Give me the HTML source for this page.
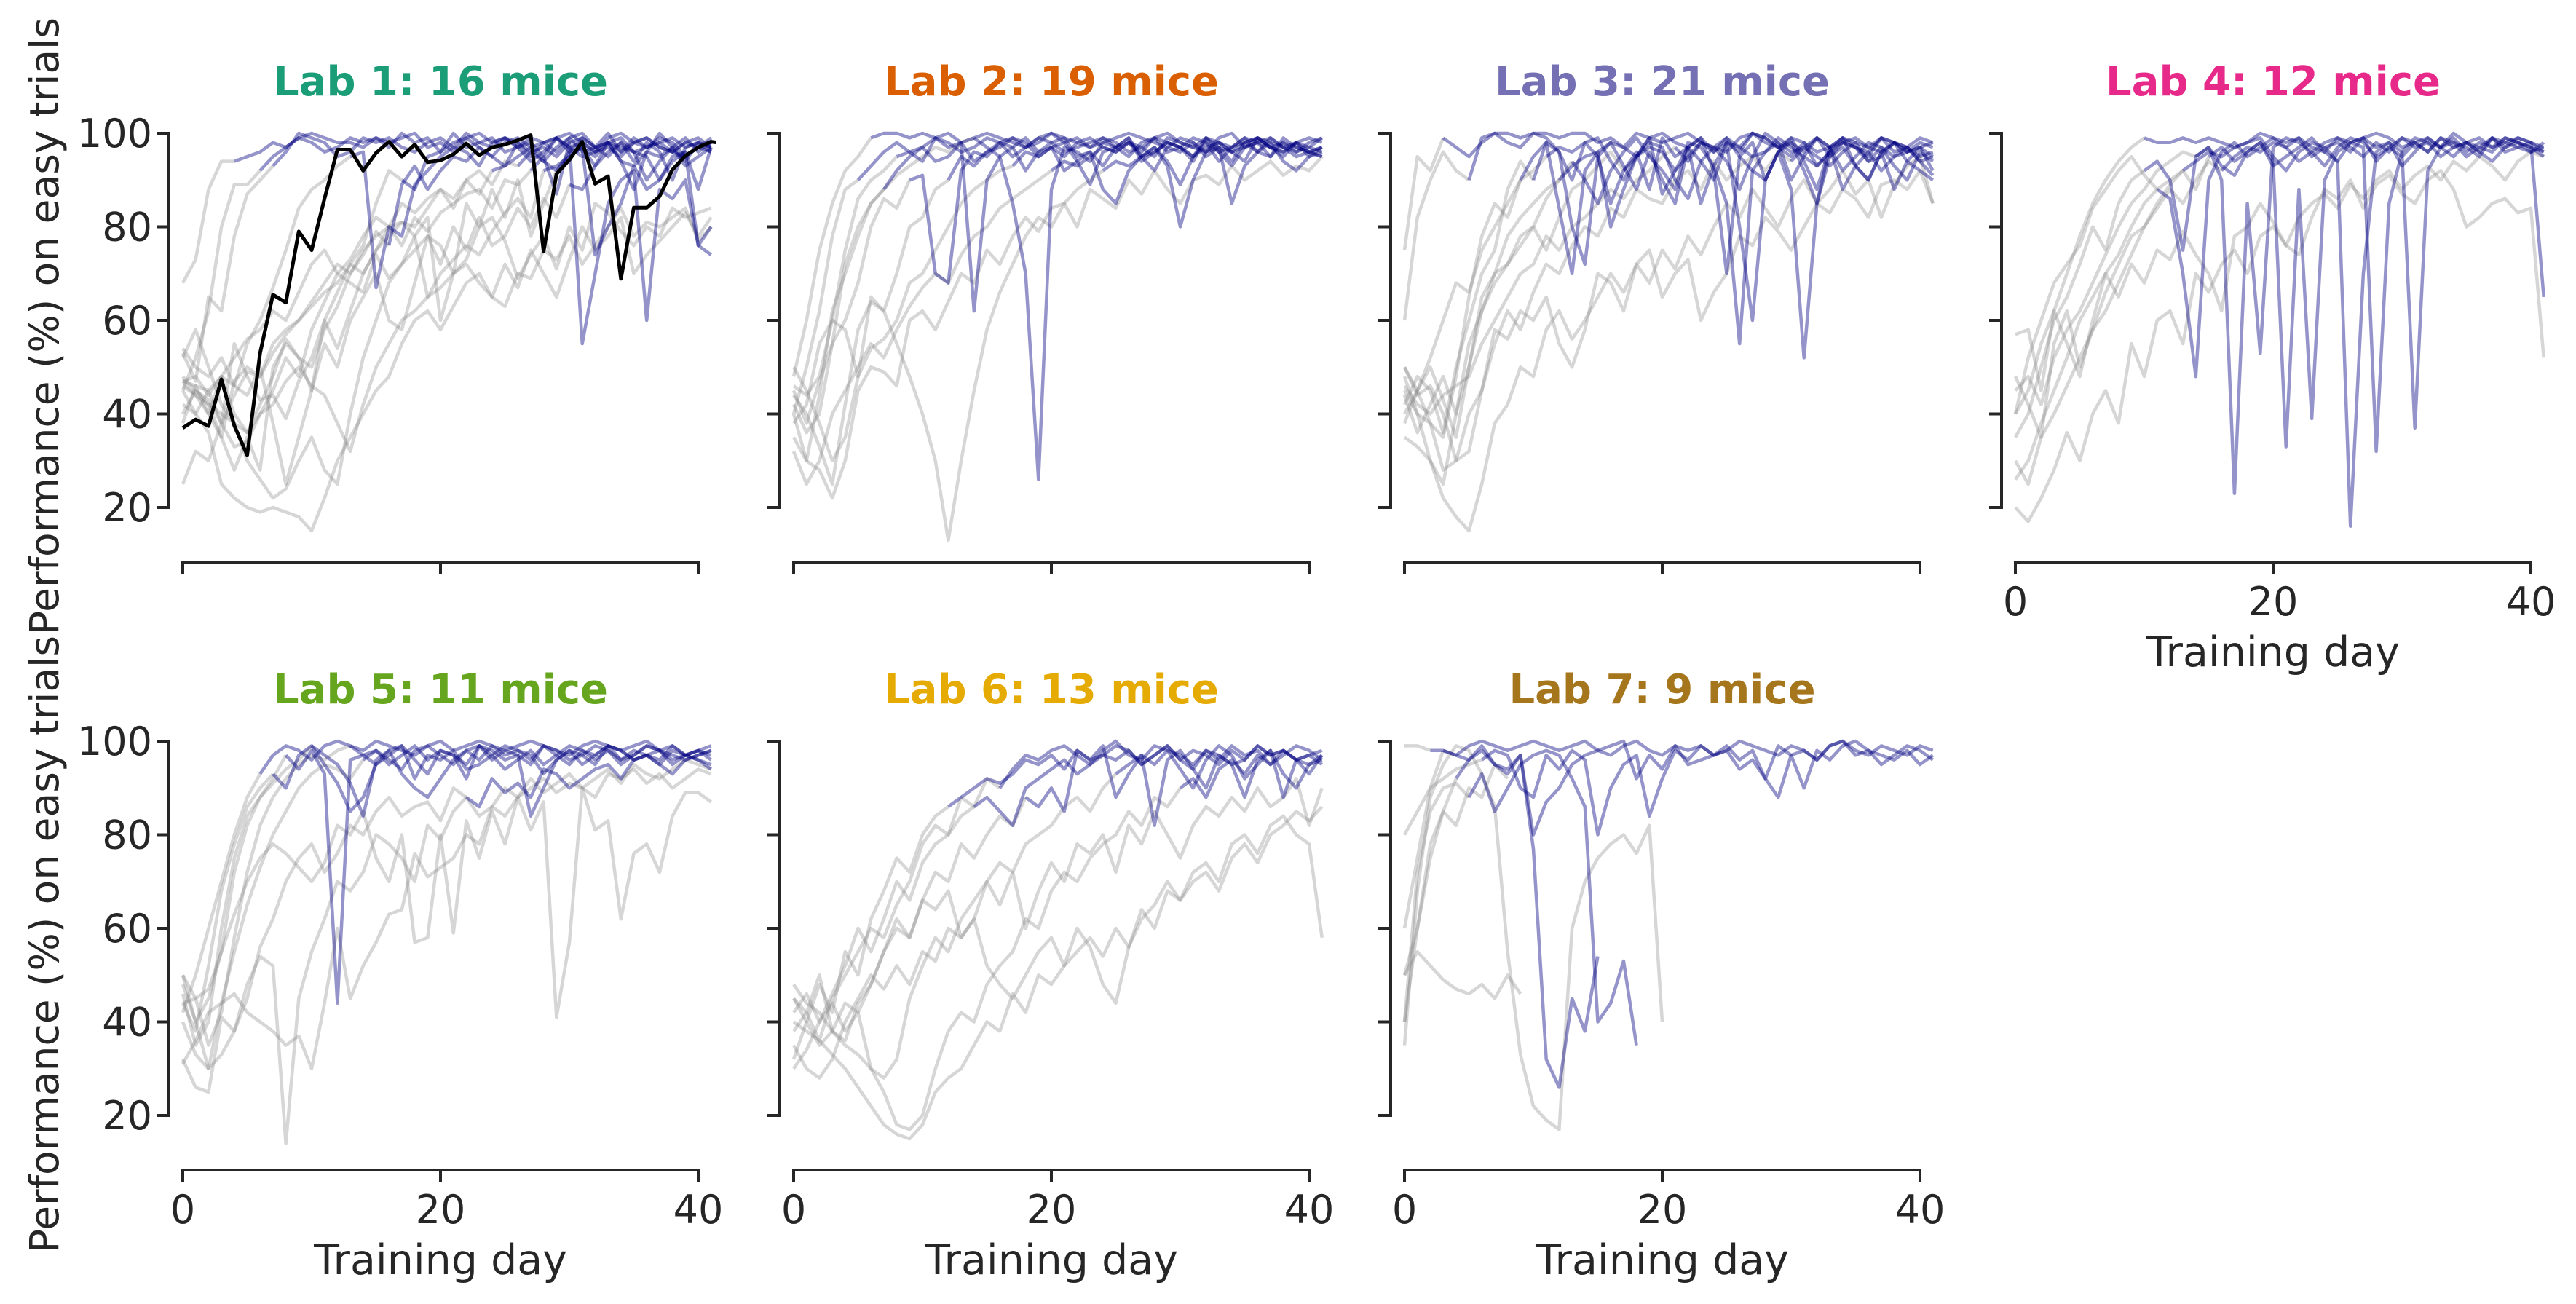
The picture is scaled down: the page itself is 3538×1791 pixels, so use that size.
<!DOCTYPE html>
<html><head><meta charset="utf-8"><style>
html,body{margin:0;padding:0;background:#fff;}
svg{display:block;}
text{font-family:"DejaVu Sans","Liberation Sans",sans-serif;fill:#262626;}
</style></head><body>
<svg id="fig" xmlns="http://www.w3.org/2000/svg" width="3538" height="1791" viewBox="0 0 3538 1791">
<rect width="3538" height="1791" fill="#fff"/>
</svg>
<script>
// ---- data ----
const labNames = ["Lab 1: 16 mice","Lab 2: 19 mice","Lab 3: 21 mice","Lab 4: 12 mice","Lab 5: 11 mice","Lab 6: 13 mice","Lab 7: 9 mice"];
const labColors = ["#1b9e77","#d95f02","#7570b3","#e7298a","#66a61e","#e6ab02","#a6761d"];
const yTicks = [20,40,60,80,100];
const xTicks = [0,20,40];
const highlightMouse = [37,38.8,37.4,47.4,37.5,31.2,53,65.5,63.8,79,75,86,96.5,96.5,92,95.8,98.2,95,97.6,93.8,94.2,95.5,97.8,95.3,97,97.6,98.5,99.6,74.7,91.3,94.3,98.2,89.2,90.8,68.9,84.1,84.1,86.5,92.2,95.2,97,98.2,97.8];

const lab1 = [
[68,73,88,94,94,95,96,98,97,99,100,99,98,98,97,99,98,99,100,97,98,96,99,100,98,99,97,99,98,96,99,100,97,98,99,96,97,98,99,97,98,97],
[45,52,62,80,89,89,92,95,97,99,98,96,97,99,98,99,97,100,98,99,96,98,99,97,95,98,99,97,98,99,96,97,95,98,96,99,97,98,96,95,97,96],
[53,47,65,62,78,87,90,93,96,100,99,98,95,96,99,98,99,97,96,98,99,97,100,98,97,99,98,95,98,99,97,98,96,99,100,98,97,99,98,95,97,98],
[47,44,40,48,46,55,60,67,75,84,88,90,93,95,96,67,80,78,89,92,95,97,96,93,98,99,97,94,96,99,97,95,96,98,94,93,96,95,97,94,98,97],
[40,45,42,35,47,50,48,55,58,60,64,68,72,70,75,78,80,76,82,79,83,85,87,88,84,90,89,92,95,87,98,55,70,85,90,92,60,88,86,90,76,74],
[47,46,45,48,52,56,58,62,60,66,72,75,70,73,78,82,80,85,83,86,88,84,90,87,92,93,95,97,94,92,96,99,97,98,94,88,96,100,97,93,95,97],
[25,32,30,38,55,48,43,44,39,47,52,60,54,62,70,75,80,81,78,65,70,73,76,74,79,83,86,82,92,93,95,97,74,80,85,93,88,90,95,96,88,97],
[54,50,48,52,46,44,50,38,25,35,45,55,50,60,65,70,60,58,68,78,72,80,75,82,76,78,84,80,86,82,89,88,93,98,97,96,95,90,94,96,76,80],
[45,40,36,25,22,20,19,20,19,18,15,22,30,35,40,45,48,55,60,62,58,63,68,70,65,72,67,75,70,65,73,80,75,78,82,70,74,77,80,83,78,82],
[48,45,43,38,33,34,40,42,47,50,46,44,38,32,42,50,55,60,62,65,67,70,72,68,65,63,70,69,75,73,78,72,76,80,84,78,81,80,82,84,77,80],
[46,44,42,40,38,36,40,45,52,48,58,64,70,68,66,74,69,72,75,78,76,70,73,80,82,77,69,74,78,71,80,75,85,83,79,76,80,78,84,82,83,84],
[52,58,50,42,38,30,26,22,24,30,35,28,25,40,52,60,68,72,78,82,60,70,85,80,88,82,90,78,85,92,95,97,93,96,98,94,98,96,90,97,98,96],
[47,48,44,48,40,36,42,48,56,52,50,58,63,70,74,79,76,89,93,88,92,95,94,97,95,93,98,96,94,97,99,96,97,95,98,96,90,94,97,99,96,98],
[38,46,40,35,28,35,28,50,55,52,45,60,66,72,76,85,92,90,88,95,96,100,97,98,99,96,97,98,95,99,100,98,96,97,95,98,99,97,96,98,97,99],
[42,40,45,38,44,49,48,53,57,60,63,66,68,72,70,75,78,81,80,84,88,86,90,92,89,94,93,96,97,95,98,99,97,100,96,98,99,97,96,98,99,97]
];
const lab1Trained = [4,6,7,13,27,24,28,30,-1,-1,-1,29,16,17,26];

const lab2 = [
[48,60,75,85,92,95,99,100,100,99,100,99,100,98,99,100,99,98,97,99,100,98,99,97,98,99,100,99,98,97,99,98,96,99,100,97,98,99,97,98,99,98],
[40,50,62,78,88,90,93,96,98,96,94,99,97,98,62,90,95,97,92,96,98,99,95,96,93,97,99,94,96,98,97,95,99,97,94,98,96,99,97,95,96,97],
[45,38,47,55,72,80,85,88,91,93,95,97,96,98,99,97,95,85,70,26,88,97,96,94,98,97,99,95,96,98,97,94,99,96,93,97,98,95,99,97,96,95],
[35,30,44,62,70,78,85,88,92,95,97,94,95,98,94,96,97,99,98,95,97,92,94,96,88,85,92,95,97,93,80,90,96,97,85,93,96,98,94,92,95,96],
[42,36,40,55,60,68,80,86,84,90,91,70,68,92,96,95,98,97,99,96,97,95,98,99,97,96,98,95,97,94,89,95,97,98,96,94,99,97,95,98,96,97],
[44,40,33,25,42,58,64,62,70,80,82,88,90,95,93,96,98,99,97,98,100,99,98,97,99,98,96,97,99,98,97,99,98,96,97,98,99,97,98,96,97,99],
[50,45,38,30,35,48,54,56,60,68,70,75,80,85,88,90,92,93,96,95,97,98,94,89,96,97,95,98,99,96,97,95,98,94,97,99,96,95,98,97,96,95],
[40,30,28,22,30,45,50,49,46,60,62,58,64,70,68,75,72,78,82,79,84,85,80,88,86,84,90,87,92,88,85,90,91,89,93,90,92,94,91,93,92,95],
[38,42,55,60,58,48,65,62,55,48,40,30,13,30,45,58,66,72,78,82,80,85,88,90,92,94,93,95,92,97,96,98,95,97,96,98,99,97,96,98,97,96],
[32,25,30,40,45,50,55,52,58,63,67,70,68,74,78,80,84,86,88,90,92,94,93,95,97,96,98,97,95,99,98,97,96,98,97,99,98,97,96,98,95,97],
[46,44,48,60,75,86,90,92,95,96,97,99,98,96,97,99,98,95,97,99,98,96,97,98,99,97,98,96,99,100,98,97,99,98,96,97,99,98,97,96,98,99]
];
const lab2Trained = [6,5,14,7,9,12,17,-1,24,20,8];

const lab3 = [
[75,95,92,99,97,95,98,100,100,99,100,100,99,100,100,98,99,97,100,99,98,99,100,98,97,96,99,100,98,97,99,98,96,97,99,98,97,99,98,96,97,98],
[60,82,90,96,92,90,99,100,98,97,100,99,96,90,98,95,85,92,96,88,99,95,97,94,90,98,96,100,99,97,95,98,93,96,99,97,94,95,98,96,97,95],
[45,40,38,35,48,65,78,85,82,90,95,98,84,70,92,96,80,88,95,99,87,92,97,85,93,98,80,60,90,96,98,92,85,97,99,93,90,96,98,94,92,90],
[42,48,45,36,50,60,70,75,88,94,90,98,96,80,72,95,98,93,88,96,90,85,97,99,92,70,95,98,90,96,99,94,88,97,92,95,98,97,93,90,96,94],
[44,36,42,48,40,55,62,68,72,76,80,86,90,94,90,85,92,96,99,95,92,88,98,97,93,85,55,92,96,98,90,95,99,97,88,93,96,92,95,97,94,91],
[40,45,50,43,35,50,65,70,72,78,80,75,82,88,90,93,96,92,95,98,97,90,86,94,97,99,95,92,90,96,88,52,85,95,97,93,90,96,88,94,97,92],
[48,40,30,22,18,15,25,38,42,50,48,58,62,56,60,65,70,66,72,68,75,71,78,74,80,85,82,88,84,80,86,90,85,88,92,87,90,82,89,93,95,85],
[50,45,38,28,30,40,45,58,56,62,60,65,55,50,58,70,68,62,72,75,65,70,73,60,66,70,78,76,82,79,75,80,85,83,88,86,82,89,90,88,92,85],
[46,42,40,44,46,48,55,60,65,70,72,78,75,80,82,85,88,86,90,92,95,97,94,98,96,99,97,95,100,98,96,97,99,95,98,97,96,99,98,97,95,96],
[35,33,30,25,40,50,62,70,78,82,85,88,90,93,95,96,98,97,95,99,100,98,97,99,96,98,97,100,99,97,98,96,99,97,98,99,97,96,98,97,99,98],
[38,45,52,60,68,66,75,80,85,90,92,95,97,96,98,99,94,90,95,97,96,92,95,98,97,94,88,95,96,99,97,95,93,96,98,97,95,99,96,97,94,95],
[50,44,46,40,30,32,45,55,62,58,66,72,70,76,80,78,84,82,88,86,85,90,92,88,94,90,93,95,92,96,94,97,95,93,96,98,94,97,95,96,98,97]
];
const lab3Trained = [3,5,9,10,13,17,-1,-1,21,12,11,30];

const lab4 = [
[40,45,55,62,70,78,85,90,94,97,99,98,98,99,98,99,98,97,98,100,99,98,99,97,96,99,98,99,100,99,97,98,99,97,100,98,99,97,98,99,98,97],
[35,40,50,60,65,72,80,75,85,90,92,94,90,75,95,97,90,23,85,53,97,99,98,96,93,97,99,98,95,97,99,98,96,99,98,97,95,99,98,97,96,98],
[26,30,38,45,52,60,65,70,74,80,85,88,90,92,94,96,95,97,98,99,95,92,96,98,97,94,16,70,96,98,93,96,99,97,95,98,97,96,99,98,97,95],
[45,48,42,52,58,62,68,74,80,85,88,92,94,96,95,97,93,91,96,98,94,33,88,39,90,96,98,99,94,97,95,98,96,99,97,98,96,94,97,99,98,96],
[30,25,35,40,46,52,58,62,68,74,80,85,89,92,88,95,97,94,96,98,93,95,97,99,96,94,98,97,32,85,96,37,92,97,98,95,97,99,96,97,98,65],
[40,52,60,68,72,76,84,88,92,95,91,88,86,70,48,90,96,98,95,97,99,97,94,96,98,99,97,95,98,96,99,97,98,95,97,98,96,99,97,98,96,97],
[57,58,45,62,55,48,60,70,65,72,68,75,73,79,74,70,62,78,80,85,81,76,74,82,88,86,90,84,89,91,87,85,90,92,88,80,82,85,86,83,84,52],
[20,17,22,28,36,30,40,45,38,55,48,60,62,55,70,66,72,75,70,78,80,76,82,85,87,84,89,86,90,92,88,91,93,90,94,92,95,93,90,94,96,95],
[48,42,35,55,62,50,58,66,72,78,80,84,88,85,90,94,92,95,97,96,98,97,99,95,97,98,96,99,97,98,96,99,98,97,99,96,98,97,99,98,97,96]
];
const lab4Trained = [10,10,13,14,15,11,-1,-1,16];

const lab5 = [
[42,50,60,70,80,88,93,97,99,98,96,99,100,99,98,100,99,98,97,99,100,98,99,100,99,98,99,100,99,98,97,99,100,99,98,99,100,98,99,97,98,99],
[48,40,45,55,72,82,88,92,97,94,98,93,44,96,97,98,96,94,98,99,97,95,98,96,99,97,98,96,99,97,95,98,97,99,98,96,97,98,96,97,98,97],
[44,38,52,68,78,86,90,93,90,97,99,95,91,85,88,95,97,99,96,93,98,97,92,99,96,98,97,95,99,98,96,97,99,98,96,97,99,98,95,97,98,96],
[46,35,40,60,75,84,88,91,94,96,99,97,95,91,84,96,98,99,92,97,96,98,94,95,97,99,98,97,93,96,98,97,95,99,96,98,97,96,99,97,96,95],
[50,45,35,42,58,72,82,88,92,95,97,96,98,99,97,95,98,93,90,88,92,96,98,99,97,94,96,98,95,97,99,98,96,98,95,97,99,98,97,96,97,98],
[40,33,30,44,55,65,73,80,85,90,93,95,94,92,96,98,95,97,99,96,98,97,95,99,98,96,97,84,90,96,98,95,97,99,98,96,97,95,98,97,96,94],
[32,26,25,41,38,45,56,62,70,75,78,72,76,82,80,85,88,84,86,87,83,90,88,86,92,89,91,88,94,93,90,92,94,95,92,96,97,95,93,96,97,98],
[44,45,47,55,63,70,75,78,76,73,70,74,82,80,85,75,70,80,57,58,80,59,83,75,85,78,88,81,87,41,57,90,81,83,62,76,78,72,84,89,89,87],
[31,36,42,44,46,42,40,38,35,37,30,44,60,45,52,57,63,64,76,71,73,75,80,78,86,84,88,90,92,89,91,90,88,93,92,94,91,93,90,92,94,93],
[50,40,30,33,38,48,54,52,14,45,55,62,70,68,72,80,78,75,70,82,79,85,88,84,86,90,88,92,89,91,93,90,92,94,91,95,93,92,94,96,95,94]
];
const lab5Trained = [6,8,7,10,13,14,22,-1,-1,-1];

const lab6 = [
[45,40,48,42,55,50,62,68,75,72,80,84,86,88,90,92,91,93,96,95,97,94,98,96,97,99,98,95,97,99,96,98,97,95,98,96,99,97,98,96,97,98],
[38,42,36,45,50,55,60,58,65,70,78,82,80,88,86,92,90,94,97,96,98,99,97,95,98,100,97,96,99,98,97,95,98,96,99,97,98,95,97,99,98,96],
[32,40,35,38,44,42,48,55,60,58,66,72,70,78,75,80,84,82,88,86,90,85,98,96,99,88,93,97,95,98,94,90,96,99,97,92,95,98,88,96,93,97],
[48,44,42,38,35,33,30,28,32,45,52,58,55,62,66,70,74,72,78,80,82,86,88,85,90,93,95,97,82,96,98,94,90,97,95,88,96,98,93,90,95,96],
[42,46,40,44,38,42,30,25,18,17,20,30,38,42,40,48,52,55,62,60,68,72,70,75,78,80,85,82,88,86,90,92,88,94,96,93,97,95,98,96,97,95],
[35,30,28,32,40,45,50,47,52,48,55,53,60,58,62,52,48,45,50,55,58,52,60,56,48,44,56,62,65,70,66,72,74,70,78,80,76,82,84,80,78,58],
[40,38,36,33,30,26,22,18,16,15,18,25,28,30,35,40,38,46,42,50,48,52,55,58,54,60,56,64,60,68,66,70,72,68,75,78,74,80,82,85,83,86],
[30,34,40,46,52,60,55,62,70,66,74,78,80,84,86,88,85,82,90,92,94,96,93,95,97,96,98,95,97,99,96,94,98,97,95,96,99,97,98,96,95,97],
[45,42,50,38,36,44,48,55,62,58,66,64,68,58,62,70,65,72,60,68,74,70,78,76,80,72,82,78,85,80,75,82,86,84,88,85,90,86,88,92,82,90]
];
const lab6Trained = [12,16,18,25,30,-1,-1,14,-1];

const lab7 = [
[99,99,98,98,97,99,100,99,98,99,100,99,98,99,100,98,97,99,100,98,97,99,98,99,97,98,100,99,98,97,99,98,96,99,100,98,97,99,98,97,99,98],
[80,85,90,98,97,96,99,95,93,97,80,87,90,95,97,98,99,100,92,97,94,99,95,96,97,99,96,98,92,99,97,98,96,99,100,97,98,95,97,99,98,96],
[50,60,75,85,92,96,98,95,94,97,77,32,26,45,38,54],
[40,72,85,90,91,88,93,85,90,95,97,98,97,92,86,40,44,53,35],
[60,75,90,92,94,95,96,98,97,90,88,97,94,98,96,80,90,95,97,84,92,98,96,99,97,98,94,96,92,88,97,90,98,96,99,100,98,97,96,98,95,97],
[35,68,88,95,99,98,93,86,55,33,22,19,17,60,70,75,78,80,76,82,40],
[50,55,52,49,47,46,48,45,50,46],
[40,60,78,85,82,90,88,95,92]
];
const lab7Trained = [2,3,4,5,6,-1,-1,-1];

const labData = [lab1,lab2,lab3,lab4,lab5,lab6,lab7];
const labTrained = [lab1Trained,lab2Trained,lab3Trained,lab4Trained,lab5Trained,lab6Trained,lab7Trained];

// ---- layout ----
const NS = "http://www.w3.org/2000/svg";
const svg = document.getElementById("fig");
const X0 = 251, DAYPX = 17.7, COLW = 839;
const Y100 = 183, UNIT = 6.425, ROWH = 835;
const SPINEX = 232, XAXISY = 772, TICK = 17;
const LINEW = 4.5;

function xScale(col, d){ return X0 + col*COLW + d*DAYPX; }
function yScale(row, v){ return Y100 + row*ROWH + (100-v)*UNIT; }

function mk(tag, attrs, parent){
  const e = document.createElementNS(NS, tag);
  for (const k in attrs) e.setAttribute(k, attrs[k]);
  (parent||svg).appendChild(e);
  return e;
}
function path(col,row,vals,start,end){
  let d="";
  for(let i=start;i<=end && i<vals.length;i++){
    d += (i===start?"M":"L") + xScale(col,i).toFixed(1)+","+yScale(row,vals[i]).toFixed(1);
  }
  return d;
}

// clip paths per panel (right edge at ~day 41.4)
const defs = mk("defs",{});
for(let li=0;li<7;li++){
  const col = li % 4, row = Math.floor(li/4);
  const cp = mk("clipPath",{id:"clip"+li},defs);
  mk("rect",{x:xScale(col,-1),y:Y100+row*ROWH-40,width:DAYPX*42.4,height:700},cp);
}

labData.forEach((mice, li) => {
  const col = li % 4, row = Math.floor(li/4);
  const g = mk("g", {});
  
  

  // title
  const t = mk("text", {x: xScale(col,20), y: 131 + row*ROWH, "text-anchor":"middle", "font-size":56, "font-weight":"bold", style:"fill:"+labColors[li]}, g);
  t.textContent = labNames[li];
  
  

  // y axis
  const ya = mk("g", {}, g);
  
  
  const sx = SPINEX + col*COLW;
  mk("line",{x1:sx,x2:sx,y1:yScale(row,100),y2:yScale(row,20),stroke:"#262626","stroke-width":4,"stroke-linecap":"square"},ya);
  yTicks.forEach(v=>{
    mk("line",{x1:sx-TICK,x2:sx,y1:yScale(row,v),y2:yScale(row,v),stroke:"#262626","stroke-width":4},ya);
    if(col===0){
      const tl = mk("text",{x:sx-TICK-6,y:yScale(row,v)+19,"text-anchor":"end","font-size":54},ya);
      tl.textContent = v;
      
      
    }
  });

  // x axis
  const xa = mk("g", {}, g);
  
  
  const ay = XAXISY + row*ROWH;
  mk("line",{x1:xScale(col,0),x2:xScale(col,40),y1:ay,y2:ay,stroke:"#262626","stroke-width":4,"stroke-linecap":"square"},xa);
  const showX = (row===1) || (col===3);
  xTicks.forEach(d=>{
    mk("line",{x1:xScale(col,d),x2:xScale(col,d),y1:ay,y2:ay+TICK,stroke:"#262626","stroke-width":4},xa);
    if(showX){
      const tl = mk("text",{x:xScale(col,d),y:ay+73,"text-anchor":"middle","font-size":54},xa);
      tl.textContent = d;
      
      
    }
  });
  if(showX){
    const xl = mk("text",{x:xScale(col,20),y:ay+143,"text-anchor":"middle","font-size":57},xa);
    xl.textContent = "Training day";
    
    
  }

  // series
  const sg = mk("g",{"clip-path":"url(#clip"+li+")"},g);
  
  
  const tr = labTrained[li];
  mice.forEach((vals, mi) => {
    const T = tr[mi];
    const grayEnd = (T<0) ? vals.length-1 : T;
    const p = mk("path",{d:path(col,row,vals,0,grayEnd),fill:"none",stroke:"#808080","stroke-opacity":0.32,"stroke-width":LINEW,"stroke-linejoin":"round"},sg);
    
    
  });
  mice.forEach((vals, mi) => {
    const T = tr[mi];
    if(T<0) return;
    const p = mk("path",{d:path(col,row,vals,T,vals.length-1),fill:"none",stroke:"#000080","stroke-opacity":0.42,"stroke-width":LINEW,"stroke-linejoin":"round"},sg);
    
    
  });
  if(li===0){
    const p = mk("path",{d:path(0,0,highlightMouse,0,highlightMouse.length-1),fill:"none",stroke:"#000","stroke-width":5,"stroke-linejoin":"round"},sg);
    
    
  }
});

// y axis titles
[448,1297].forEach((cy,i)=>{
  const yl = mk("text",{x:0,y:0,"text-anchor":"middle","font-size":55,transform:"translate(80,"+cy+") rotate(-90)"});
  yl.textContent = "Performance (%) on easy trials";
  
  
});
</script>
</body></html>
